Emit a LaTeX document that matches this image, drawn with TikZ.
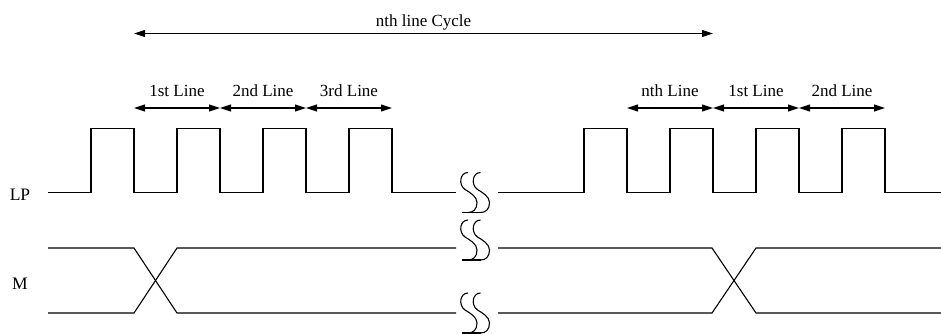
\documentclass[tikz,border=0pt]{standalone}
\usepackage{fontspec}
\setmainfont{Liberation Serif}
\usetikzlibrary{arrows.meta}
\tikzset{wave/.style={line width=1.1pt},
  dim/.style={line width=1.1pt,{Triangle[length=11pt,width=7pt]}-{Triangle[length=11pt,width=7pt]}},
  lbl/.style={font=\fontsize{17}{19}\selectfont,inner sep=0pt,anchor=base},
  sig/.style={font=\fontsize{17.5}{19}\selectfont,inner sep=0pt,anchor=base},
  pics/brk/.style={code={
    \foreach \d in {0,12.5}
      \draw[wave] (\d,-20) .. controls (\d-8,-20) and (\d-10,-8) .. (\d-3,-3)
        .. controls (\d+2,0) and (\d+9,4) .. (\d+9,10)
        .. controls (\d+9,17) and (\d+5,20) .. (\d,20);
    \draw[wave] (-6,20) -- (12.5,20);
  }}}
\begin{document}
\begin{tikzpicture}[x=1pt,y=-1pt]
\useasboundingbox (0,0) rectangle (941,333);
\clip (0,0) rectangle (941,333);
% LP
\draw[wave] (48,192.5) foreach \s in {91,177,263,349}{ -- (\s,192.5) -- (\s,128.5) -- ({\s+43},128.5) -- ({\s+43},192.5) } -- (456,192.5);
\draw[wave] (498,192.5) foreach \s in {584,670,756,842}{ -- (\s,192.5) -- (\s,128.5) -- ({\s+43},128.5) -- ({\s+43},192.5) } -- (941,192.5);
% M
\draw[wave] (48,248) -- (134,248) -- (177,313) -- (456,313);
\draw[wave] (48,313) -- (134,313) -- (177,248) -- (456,248);
\draw[wave] (498,248) -- (712,248) -- (756,313) -- (941,313);
\draw[wave] (498,313) -- (712,313) -- (756,248) -- (941,248);
% breaks
\pic at (468,192.5) {brk};
\pic at (468,240) {brk};
\pic at (468,313) {brk};
% labels
\node[sig] (lp) at (20,200) {LP};
\node[sig] (m) at (20,289.5) {M};
\foreach \x [count=\i] in {134,220,306,392}{\coordinate (l\i) at (\x,108);}
\foreach \x [count=\i] in {627,713,799,885}{\coordinate (r\i) at (\x,108);}
\coordinate (c1) at (134,33.5);
\coordinate (c2) at (713,33.5);
\draw[dim] (c1) -- (c2) node[lbl,midway,yshift=7.5pt] {nth line Cycle};
\draw[dim] (l1) -- (l2) node[lbl,midway,yshift=12pt] {1st Line};
\draw[dim] (l2) -- (l3) node[lbl,midway,yshift=12pt] {2nd Line};
\draw[dim] (l3) -- (l4) node[lbl,midway,yshift=12pt] {3rd Line};
\draw[dim] (r1) -- (r2) node[lbl,midway,yshift=12pt] {nth Line};
\draw[dim] (r2) -- (r3) node[lbl,midway,yshift=12pt] {1st Line};
\draw[dim] (r3) -- (r4) node[lbl,midway,yshift=12pt] {2nd Line};
\end{tikzpicture}
\end{document}
